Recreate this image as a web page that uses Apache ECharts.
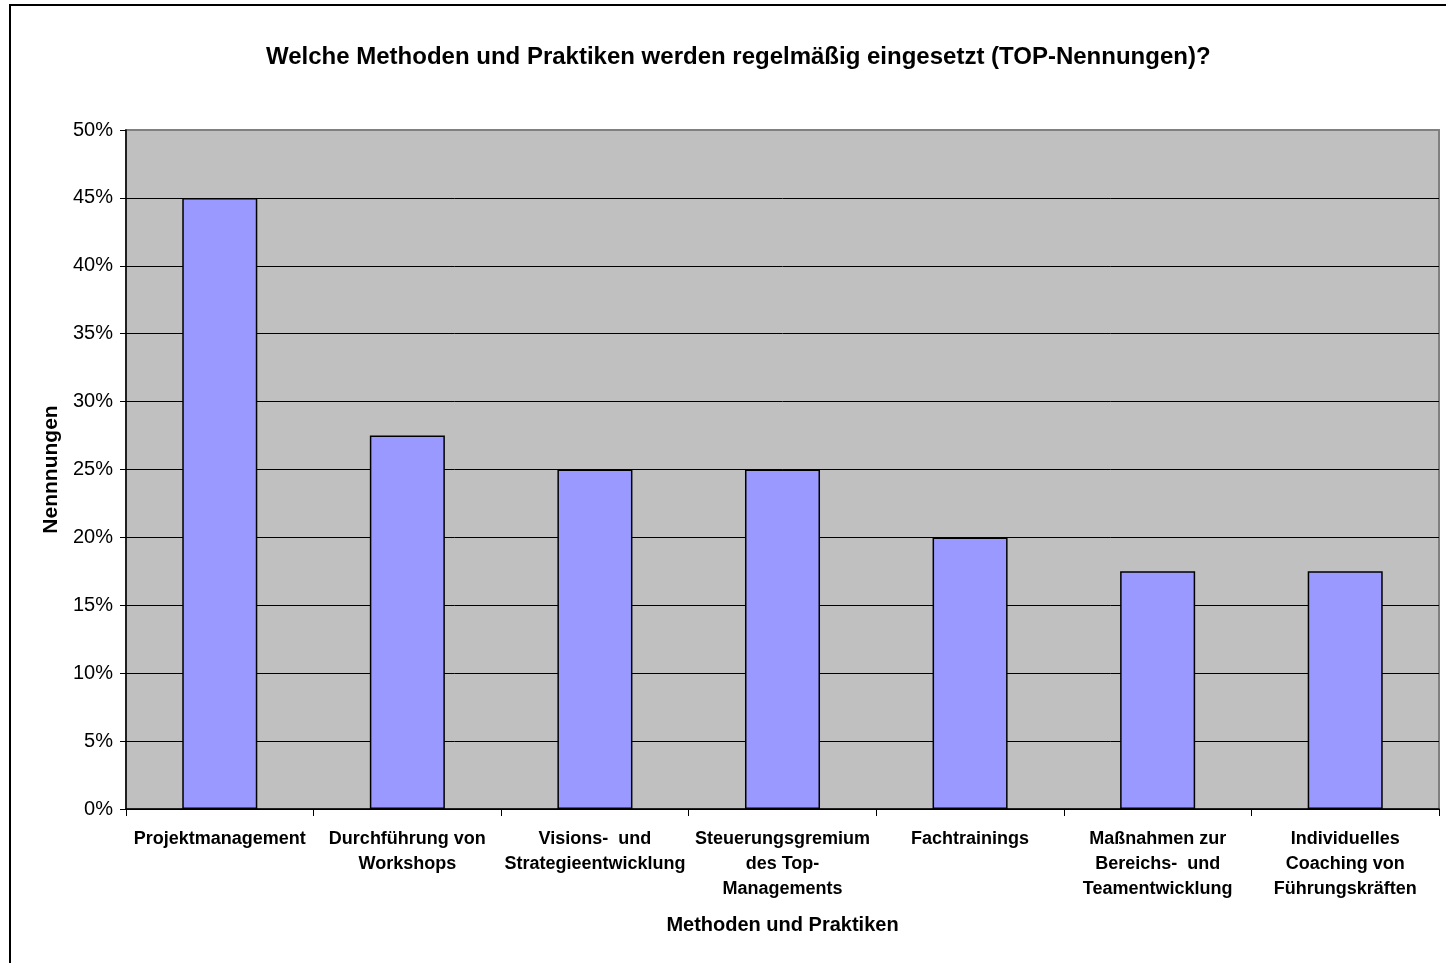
<!DOCTYPE html>
<html>
<head>
<meta charset="utf-8">
<script src="https://cdn.jsdelivr.net/npm/echarts@6/dist/echarts.min.js"></script>
<style>
html, body { margin: 0; padding: 0; background: #fff; overflow: hidden; }
#chart { width: 1446px; height: 963px; }
</style>
</head>
<body>
<div id="chart"></div>
<script>
// Kategorien und Werte (Prozent)
var categories = [
    'Projektmanagement',
    'Durchführung von\nWorkshops',
    'Visions-  und\nStrategieentwicklung',
    'Steuerungsgremium\ndes Top-\nManagements',
    'Fachtrainings',
    'Maßnahmen zur\nBereichs-  und\nTeamentwicklung',
    'Individuelles\nCoaching von\nFührungskräften'
];
var values = [45, 27.5, 25, 25, 20, 17.5, 17.5];

window.onload = function(){
    drawChart();
}

function drawChart(){
    var myChart = echarts.init(document.getElementById('chart'));
    var font = 'Liberation Sans, Arial, sans-serif';

    var option = {
        animation: false,
        textStyle: { fontFamily: font },
        title: {
            text: 'Welche Methoden und Praktiken werden regelmäßig eingesetzt (TOP-Nennungen)?',
            left: 261,
            top: 40,
            textStyle: { fontSize: 24, fontWeight: 'bold', color: '#000', fontFamily: font }
        },
        // äußerer Rahmen
        graphic: [{
            type: 'rect',
            shape: { x: 10, y: 5, width: 1460, height: 990 },
            style: { fill: 'none', stroke: '#000', lineWidth: 2 },
            z: 100
        }],
        grid: {
            left: 126, top: 130, right: 7, bottom: 154,
            show: true,
            backgroundColor: '#c0c0c0',
            borderColor: '#808080',
            borderWidth: 2
        },
        xAxis: {
            type: 'category',
            data: categories,
            name: 'Methoden und Praktiken',
            nameLocation: 'middle',
            nameGap: 106,
            nameTextStyle: { fontSize: 20, fontWeight: 'bold', color: '#000' },
            axisLine: { lineStyle: { color: '#000', width: 1.5 } },
            axisTick: { show: true, length: 7, lineStyle: { color: '#000' } },
            axisLabel: {
                interval: 0,
                margin: 18,
                fontSize: 18,
                fontWeight: 'bold',
                color: '#000',
                lineHeight: 25,
                align: 'center'
            }
        },
        yAxis: {
            type: 'value',
            min: 0,
            max: 50,
            interval: 5,
            name: 'Nennnungen',
            nameLocation: 'middle',
            nameGap: 64,
            nameTextStyle: { fontSize: 21, fontWeight: 'bold', color: '#000' },
            axisLine: { show: true, lineStyle: { color: '#000', width: 1.5 } },
            axisTick: { show: true, length: 6, lineStyle: { color: '#000' } },
            axisLabel: { formatter: '{value}%', fontSize: 20, color: '#000', margin: 13 },
            splitLine: {
                lineStyle: {
                    color: ['#000', '#000', '#000', '#000', '#000', '#000', '#000', '#000', '#000', '#000', '#808080'],
                    width: 1
                }
            }
        },
        series: [{
            name: 'Nennungen',
            type: 'bar',
            data: values,
            barWidth: '40%',
            itemStyle: { color: '#9999ff', borderColor: '#000', borderWidth: 1.5 }
        }]
    };

    myChart.setOption(option);
}
</script>
</body>
</html>
